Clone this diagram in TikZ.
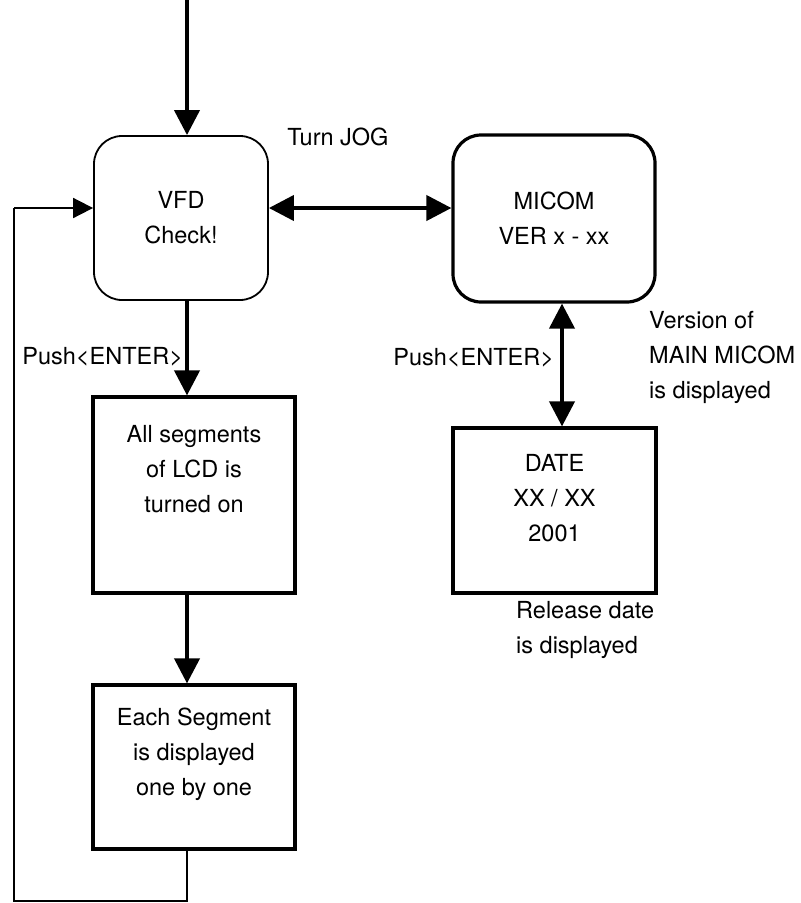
\documentclass[tikz,border=0pt]{standalone}
\usepackage{fontspec}
\setmainfont{TeX Gyre Heros}
\usetikzlibrary{arrows.meta,positioning}

\begin{document}
\begin{tikzpicture}[x=1pt, y=-1pt, font=\fontsize{23.5}{35}\selectfont,
		b/.style={draw, line width=3.2pt, align=center, inner sep=0pt},
		r/.style={b, rounded corners=28pt},
		f/.style={line width=4pt, -{Triangle[length=25pt, width=25pt]}},
		ff/.style={line width=4pt, {Triangle[length=25pt, width=25pt]}-{Triangle[length=25pt, width=25pt]}},
		t/.style={line width=1.8pt},
		l/.style={inner sep=0pt, align=left}]
		\useasboundingbox (0,0) rectangle (801,903);

		\node[r, line width=1.8pt, minimum width=174, minimum height=164] (vfd) at (181,218) {VFD\\Check!};
		\node[r, minimum width=202, minimum height=167] (micom) at (554,218.5) {MICOM\\VER x - xx};
		\node[b, minimum width=202, minimum height=196, text depth=52] (allseg) at (194,495) {All segments\\of LCD is\\turned on};
		\node[b, minimum width=202, minimum height=164, text depth=30] (eachseg) at (194,767) {Each Segment\\is displayed\\one by one};
		\node[b, minimum width=203, minimum height=165, text depth=26] (date) at (554.5,510.5) {DATE\\XX / XX\\2001};

		\node[l] (jog) at (338,137) {Turn JOG};
		\node[l, anchor=west] (ver) at (649,357) {Version of\\MAIN MICOM\\is displayed};
		\node[l, anchor=west] (rel) at (516,630) {Release date\\is displayed};

		\coordinate (in) at (187,0);
		\coordinate (col) at (562,0);
		\coordinate (row) at (14,208);
		\coordinate (lb) at (187,901);
		\coordinate (lc) at (14,901);

		\draw[f] (in) -- (in |- vfd.north);
		\draw[f] (in |- vfd.south) -- (in |- allseg.north) node[pos=0.59, left=2pt, inner sep=0pt] (push1) {Push<ENTER>};
		\draw[f] (in |- allseg.south) -- (in |- eachseg.north);
		\draw[t] (in |- eachseg.south) -- (lb) -- (lc) -- (row);
		\draw[t, -{Triangle[length=20pt, width=20pt]}] (row) -- (row -| vfd.west);
		\draw[ff] (row -| vfd.east) -- (row -| micom.west);
		\draw[ff] (col |- micom.south) -- (col |- date.north) node[pos=0.44, left=6pt, inner sep=0pt] (push2) {Push<ENTER>};
	\end{tikzpicture}
\end{document}
